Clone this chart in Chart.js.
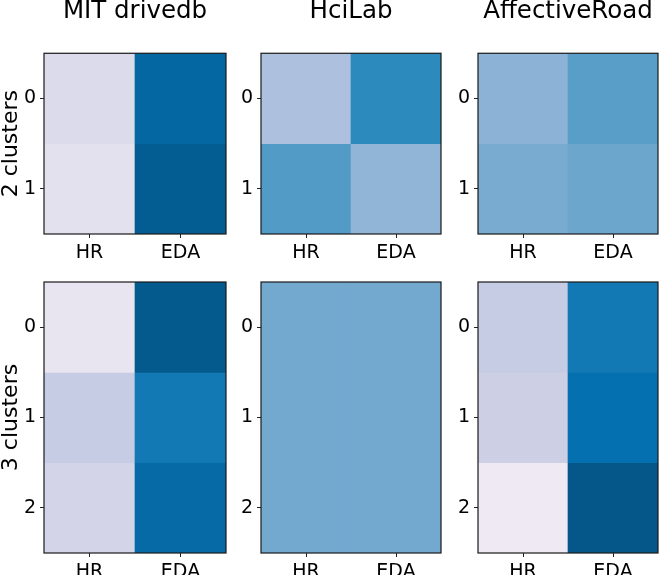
<!DOCTYPE html>
<html>
<head>
<meta charset="utf-8">
<script src="https://cdn.jsdelivr.net/npm/chart.js@4.4.1/dist/chart.umd.min.js"></script>
<style>
  body { margin: 0; background: #fff; overflow: hidden; width: 659px; height: 575px; position: relative; }
  canvas { position: absolute; }
</style>
</head>
<body>
<script>
Chart.defaults.font.family = '"DejaVu Sans", sans-serif';
Chart.defaults.color = '#000';
Chart.defaults.animation = false;

// Categories
const features = ['HR', 'EDA'];
const sources = ['MIT drivedb', 'HciLab', 'AffectiveRoad'];
const rowTitles = ['2 clusters', '3 clusters'];

// Cell values (row = cluster, column = feature), on a 0..1 PuBu scale
const mit2 = [[0.196, 0.800], [0.161, 0.858]];
const hci2 = [[0.354, 0.650], [0.569, 0.427]];
const aff2 = [[0.440, 0.556], [0.487, 0.514]];
const mit3 = [[0.143, 0.875], [0.283, 0.716], [0.232, 0.784]];
const hci3 = [[0.503, 0.503], [0.503, 0.503], [0.503, 0.503]];
const aff3 = [[0.283, 0.714], [0.259, 0.750], [0.112, 0.886]];

// PuBu colormap stops
const pubu = ['#fff7fb', '#ece7f2', '#d0d1e6', '#a6bddb', '#74a9cf', '#3690c0', '#0570b0', '#045a8d', '#023858'];

function hexToRgb(h) {
  return [1, 3, 5].map(i => parseInt(h.slice(i, i + 2), 16));
}

function cmap(v) {
  const t = Math.min(Math.max(v, 0), 1) * (pubu.length - 1);
  const i = Math.min(Math.floor(t), pubu.length - 2);
  const f = t - i;
  const a = hexToRgb(pubu[i]), b = hexToRgb(pubu[i + 1]);
  const c = a.map((x, k) => Math.round(x + (b[k] - x) * f));
  return `rgb(${c[0]}, ${c[1]}, ${c[2]})`;
}

// draws the box round each heatmap
const frame = {
  id: 'frame',
  afterDatasetsDraw(chart) {
    const { ctx, chartArea: a } = chart;
    ctx.save();
    ctx.strokeStyle = '#1a1a1a';
    ctx.lineWidth = 1.2;
    ctx.strokeRect(a.left, a.top, a.right - a.left, a.bottom - a.top);
    ctx.restore();
  }
};

function makePanel(values, title, yTitle, box) {
  const canvas = document.createElement('canvas');
  canvas.width = box.w;
  canvas.height = box.h;
  canvas.style.left = box.x + 'px';
  canvas.style.top = box.y + 'px';
  document.body.appendChild(canvas);

  const rows = values.map((_, i) => i);

  new Chart(canvas, {
    type: 'bar',
    data: {
      labels: features,
      datasets: rows.map(r => ({
        data: features.map(() => [r - 0.5, r + 0.5]),
        backgroundColor: values[r].map(cmap),
        borderWidth: 0,
        barPercentage: 1,
        categoryPercentage: 1,
        grouped: false
      }))
    },
    options: {
      responsive: false,
      layout: { padding: { top: box.padTop, right: box.padRight, left: 0, bottom: 0 } },
      plugins: {
        legend: { display: false },
        tooltip: { enabled: false },
        title: {
          display: !!title,
          text: title,
          color: '#000',
          fullSize: false,
          font: { size: 24.5, weight: 'normal', lineHeight: 0.95 },
          padding: { top: 0, bottom: 30 }
        }
      },
      scales: {
        x: {
          grid: { offset: false, drawOnChartArea: false, tickLength: 4, color: '#222' },
          border: { display: false },
          ticks: { padding: 4, font: { size: 19 }, maxRotation: 0 },
          afterFit: s => { s.height = 30; }
        },
        y: {
          min: -0.5,
          max: rows.length - 0.5,
          reverse: true,
          afterBuildTicks: s => { s.ticks = rows.map(v => ({ value: v })); },
          grid: { drawOnChartArea: false, tickLength: 4, color: '#222' },
          border: { display: false },
          ticks: { padding: 4, font: { size: 19 } },
          title: {
            display: !!yTitle,
            text: yTitle,
            color: '#000',
            font: { size: 22, lineHeight: 1 },
            padding: { top: 0, bottom: 0 }
          },
          afterFit: s => { s.width = 44; }
        }
      }
    },
    plugins: [frame]
  });
}

const cols = [
  { x: 0, w: 228, padRight: 2 },
  { x: 217, w: 226, padRight: 2 },
  { x: 434, w: 225, padRight: 1 }
];
const topRow = [mit2, hci2, aff2];
const bottomRow = [mit3, hci3, aff3];

topRow.forEach((vals, c) => {
  makePanel(vals, sources[c], c === 0 ? rowTitles[0] : '',
    { x: cols[c].x, w: cols[c].w, y: 0, h: 264, padTop: 0, padRight: cols[c].padRight });
});
bottomRow.forEach((vals, c) => {
  makePanel(vals, '', c === 0 ? rowTitles[1] : '',
    { x: cols[c].x, w: cols[c].w, y: 262, h: 321, padTop: 20, padRight: cols[c].padRight });
});
</script>
</body>
</html>
